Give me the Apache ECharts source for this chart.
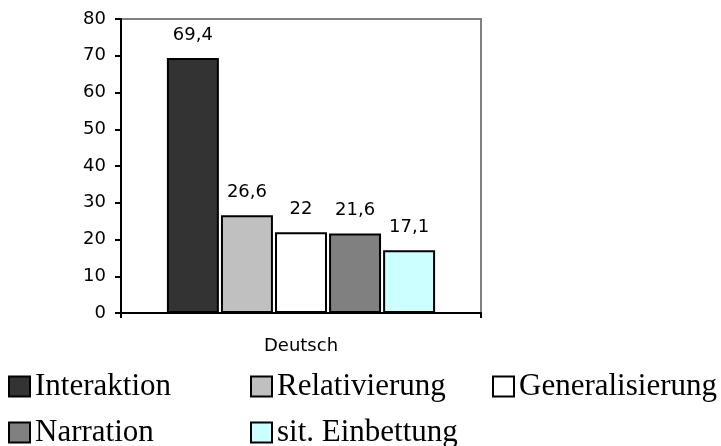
<!DOCTYPE html>
<html><head><meta charset="utf-8">
<script src="https://cdn.jsdelivr.net/npm/echarts@6/dist/echarts.min.js"></script>
<style>html,body{margin:0;padding:0;background:#fff}#c{width:721px;height:446px}</style>
</head><body><div id="c"></div>
<script>
const categories = ['Deutsch'];
const seriesNames = ['Interaktion', 'Relativierung', 'Generalisierung', 'Narration', 'sit. Einbettung'];
const seriesValues = [[69.4], [26.6], [22], [21.6], [17.1]];
const valueLabels = ['69,4', '26,6', '22', '21,6', '17,1'];
const yTicks = [0, 10, 20, 30, 40, 50, 60, 70, 80];
const colors = ['#333333', '#C0C0C0', '#FFFFFF', '#808080', '#CCFFFF'];

const legendPos = [[8, 371], [250, 371], [492, 371], [8, 417], [250, 417]];

const chart = echarts.init(document.getElementById('c'));
chart.setOption({
  animation: false,
  backgroundColor: '#fff',
  grid: { left: 121, right: 240, top: 19, bottom: 133, show: true, borderColor: '#808080', borderWidth: 2, backgroundColor: 'transparent' },
  xAxis: {
    type: 'category', data: categories,
    axisLine: { lineStyle: { color: '#000', width: 2 } },
    axisTick: { show: true, alignWithLabel: false, length: 5, lineStyle: { color: '#000', width: 2 } },
    axisLabel: { color: '#000', fontFamily: 'DejaVu Sans', fontSize: 18, margin: 24 }
  },
  yAxis: {
    type: 'value', min: yTicks[0], max: yTicks[yTicks.length - 1], interval: 10,
    axisLine: { show: true, lineStyle: { color: '#000', width: 2 } },
    axisTick: { show: true, length: 6, lineStyle: { color: '#000', width: 2 } },
    axisLabel: { color: '#000', fontFamily: 'DejaVu Sans', fontSize: 18, margin: 15 },
    splitLine: { show: false }
  },
  legend: seriesNames.map((n, i) => ({
    data: [n], left: legendPos[i][0], top: legendPos[i][1], orient: 'horizontal',
    icon: 'rect', itemWidth: 21, itemHeight: 20, padding: 0,
    textStyle: { color: '#000', fontFamily: 'Liberation Serif', fontSize: 31 }
  })),
  series: seriesNames.map((n, i) => ({
    name: n, type: 'bar', data: seriesValues[i],
    barCategoryGap: '25.5%', barGap: '4%',
    itemStyle: { color: colors[i], borderColor: '#000', borderWidth: 2 },
    label: { show: true, position: 'top', distance: 14, color: '#000', fontFamily: 'DejaVu Sans', fontSize: 18,
      formatter: () => valueLabels[i] }
  }))
});
</script></body></html>
